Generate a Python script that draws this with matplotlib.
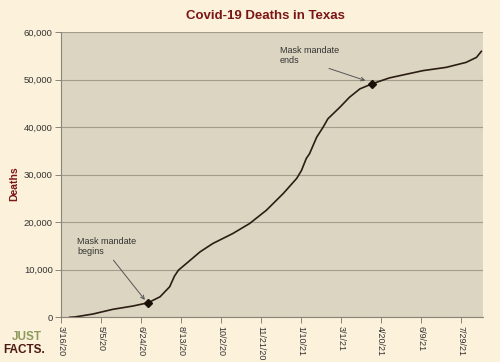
import pandas as pd
import matplotlib
matplotlib.use('Agg')
import matplotlib.pyplot as plt

plt.rcParams['font.family'] = ['Liberation Sans', 'DejaVu Sans']

START = pd.Timestamp('2020-03-16')

dates = ['2020-03-27', '2020-04-02', '2020-04-25', '2020-05-04', '2020-05-20',
         '2020-06-14', '2020-07-03', '2020-07-18', '2020-07-30', '2020-08-05',
         '2020-08-10', '2020-08-20', '2020-09-06', '2020-09-22', '2020-10-17',
         '2020-11-07', '2020-11-28', '2020-12-19', '2021-01-05', '2021-01-11',
         '2021-01-17', '2021-01-21', '2021-01-30', '2021-02-07', '2021-02-13',
         '2021-02-28', '2021-03-12', '2021-03-25', '2021-04-09', '2021-05-01',
         '2021-05-14', '2021-06-12', '2021-07-11', '2021-08-05', '2021-08-18',
         '2021-08-24']
deaths = [0, 60, 690, 1050, 1680,
          2370, 3060, 4320, 6420, 8660,
          9920, 11330, 13760, 15520, 17620,
          19720, 22510, 26010, 29220, 30900,
          33420, 34400, 37890, 39980, 41750,
          44180, 46280, 48040, 49090, 50350,
          50830, 51880, 52570, 53620, 54670,
          55930]

events = ['Mask mandate\nbegins', 'Mask mandate\nends']
event_dates = ['2020-07-03', '2021-04-09']
event_deaths = [3060, 49090]
label_dates = ['2020-04-05', '2020-12-15']
label_deaths = [16900, 57100]

tick_labels = ['3/16/20', '5/5/20', '6/24/20', '8/13/20', '10/2/20', '11/21/20',
               '1/10/21', '3/1/21', '4/20/21', '6/9/21', '7/29/21']
y_ticks = [0, 10000, 20000, 30000, 40000, 50000, 60000]

bg = '#fcf1da'
fig = plt.figure(figsize=(5, 3.62), dpi=100, facecolor=bg)
ax = fig.add_axes([0.122, 0.1235, 0.843, 0.788])
ax.set_facecolor('#dcd5c1')

x = pd.to_datetime(dates)
ax.plot(x, deaths, color='#2b1d14', lw=1.2, zorder=3)
ax.plot(pd.to_datetime(event_dates), event_deaths, 'D', color='#1a1008',
        ms=4, zorder=4)

# annotations with thin open arrows
offsets = [(4, 600), (8, 700)]
relpos = [(0.5, 0.25), (0.42, 0.25)]
for txt, d, v, ld, lv, (dd, dv), rp in zip(events, event_dates, event_deaths,
                                           label_dates, label_deaths, offsets, relpos):
    ax.annotate(txt, xy=(pd.Timestamp(d) - pd.Timedelta(days=dd), v + dv),
                xytext=(pd.Timestamp(ld), lv),
                fontsize=6.5, color='#333333', va='top', ha='left',
                arrowprops=dict(arrowstyle='->', color='#555555', lw=0.7,
                                shrinkA=1, shrinkB=0, relpos=rp))

ax.set_xlim(START, START + pd.Timedelta(days=527.5))
ax.set_ylim(0, 60000)
ticks = [START + pd.Timedelta(days=50 * i) for i in range(len(tick_labels))]
ax.set_xticks(ticks)
ax.set_xticklabels(tick_labels, rotation=270, fontsize=6.5, color='#333333')
ax.set_yticks(y_ticks)
ax.set_yticklabels([f'{v:,}' for v in y_ticks], fontsize=6.8, color='#333333')
ax.tick_params(axis='both', length=4, width=0.7, color='#8a8578', pad=2)

ax.grid(axis='y', color='#a39d8c', lw=0.8)
ax.set_axisbelow(True)
for s in ['top', 'right']:
    ax.spines[s].set_visible(False)
for s in ['left', 'bottom']:
    ax.spines[s].set_color('#8a8578')
    ax.spines[s].set_linewidth(0.8)

fig.text(265 / 500, 1 - 16 / 362, 'Covid-19 Deaths in Texas', ha='center', va='center',
         fontsize=9.5, fontweight='bold', color='#7a1616')
ax.set_ylabel('Deaths', fontsize=7.5, fontweight='bold', color='#7a1616')
ax.yaxis.set_label_coords(-0.1, 0.47)

# logo
fig.text(27 / 500, 1 - 337 / 362, 'JUST', ha='center', va='center', fontsize=8.5,
         fontweight='bold', color='#8c9a5c')
fig.text(24 / 500, 1 - 350 / 362, 'FACTS.', ha='center', va='center', fontsize=8.5,
         fontweight='bold', color='#4a1a12')

fig.savefig('out.png', dpi=100, facecolor=bg)
